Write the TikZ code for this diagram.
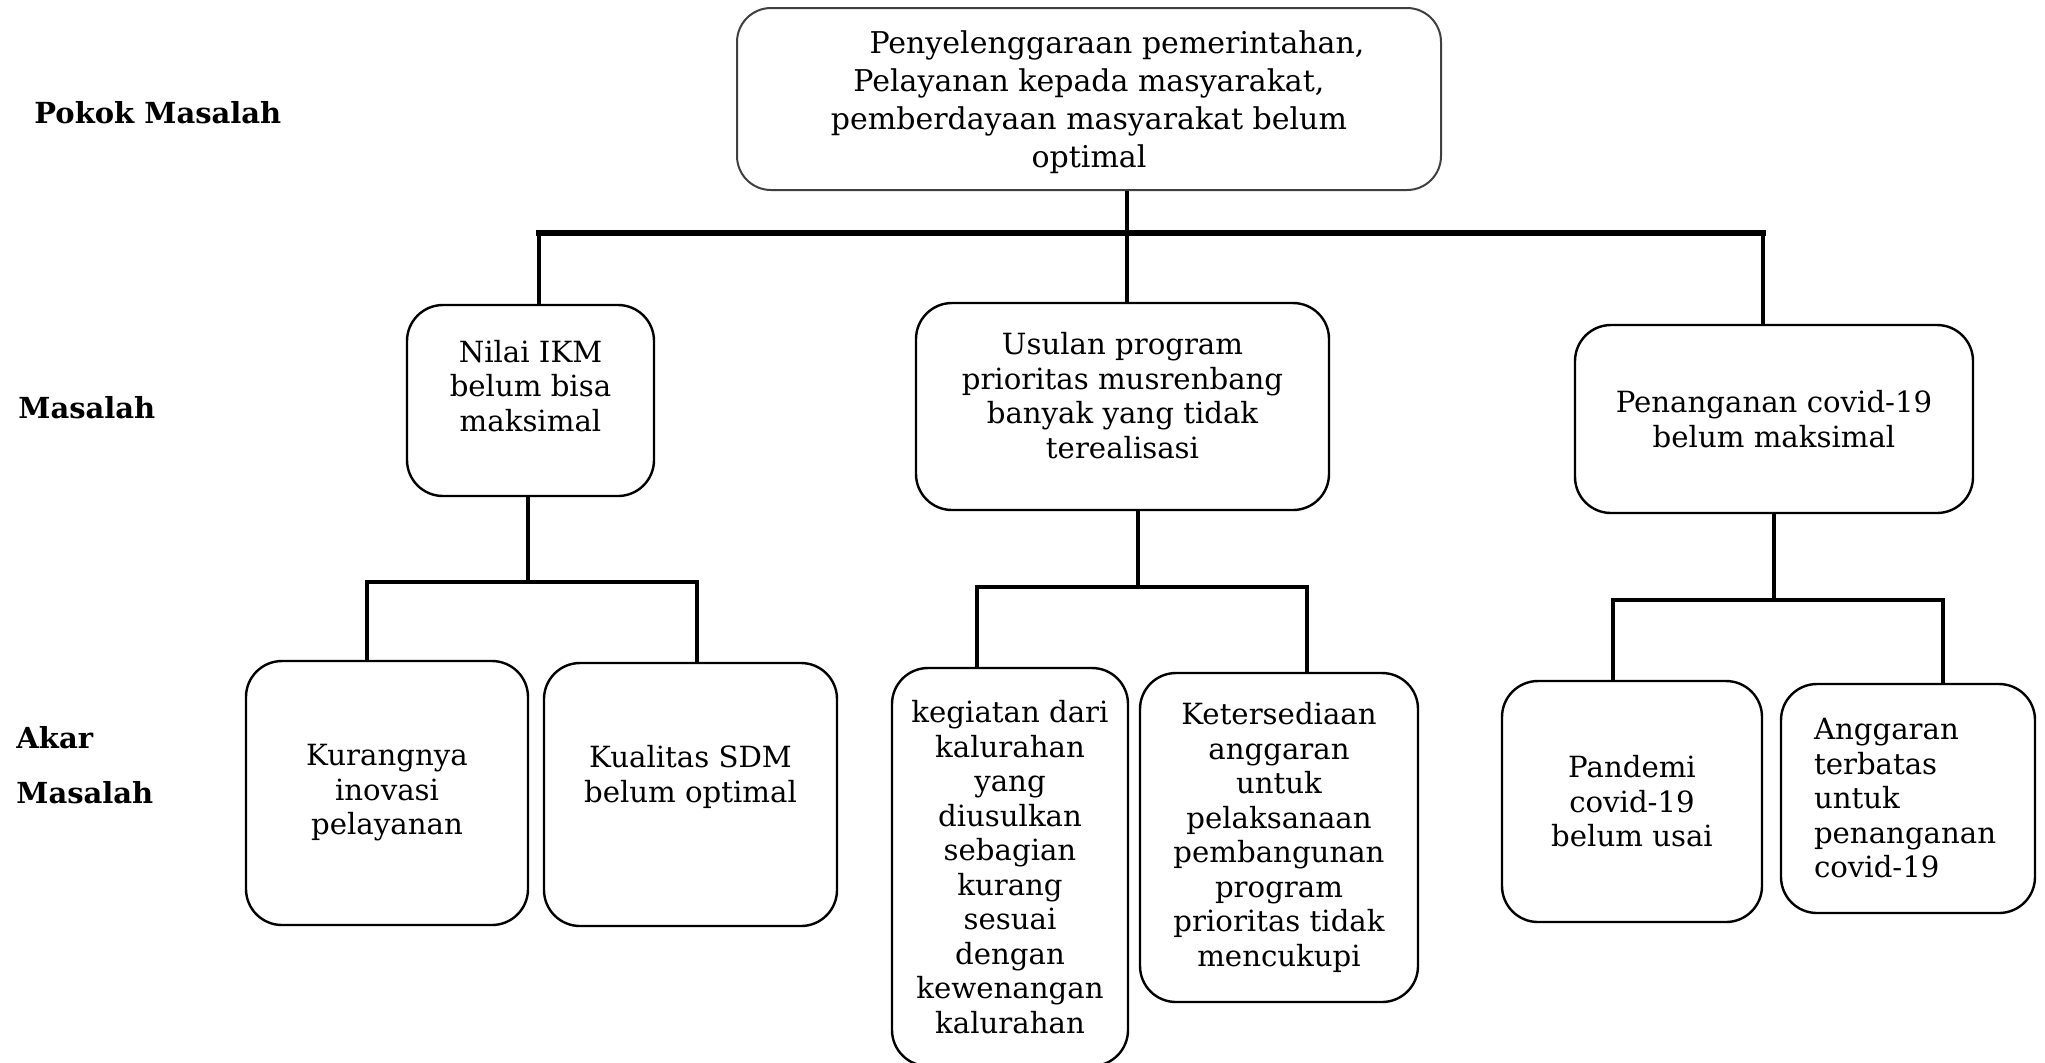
\documentclass[tikz,border=0pt]{standalone}
\usepackage{fontspec}
\setmainfont{DejaVu Serif}
\newcommand{\boxfont}{\fontsize{14.6}{17.25}\selectfont}
\newcommand{\topfont}{\fontsize{15}{19}\selectfont}
\newcommand{\lblfont}{\fontsize{14.5}{17}\selectfont\bfseries}
\begin{document}
\begin{tikzpicture}[x=0.5pt,y=-0.5pt,
  pbox/.style={draw=black, line width=1.2pt, rounded corners=18pt, align=center,
    inner sep=0pt, font=\boxfont},
  topbox/.style={draw=black!75, line width=1pt, rounded corners=17pt, align=center,
    inner sep=0pt, font=\topfont},
  lbl/.style={anchor=west, inner sep=0pt, font=\lblfont},
  vconn/.style={line width=2pt},
  hbar/.style={line width=2.2pt, line cap=rect},
  mainbar/.style={line width=3pt, line cap=rect}]
\useasboundingbox (0,0) rectangle (2045,1062);

% row labels
\node[lbl] (lpokok) at (34,113) {Pokok Masalah};
\node[lbl] (lmasalah) at (18,408) {Masalah};
\node[lbl] (lakar) at (16,738) {Akar};
\node[lbl] (lakarm) at (16,793) {Masalah};

% boxes
\node[topbox, minimum width=352pt, minimum height=91pt, text depth=-3pt] (top) at (1089,99)
  {\hspace*{28pt}Penyelenggaraan pemerintahan,\\Pelayanan kepada masyarakat,\\pemberdayaan masyarakat belum\\optimal};

\node[pbox, minimum width=123.5pt, minimum height=95.5pt, text depth=15pt] (nilai) at (530.5,400.5)
  {Nilai IKM\\belum bisa\\maksimal};
\node[pbox, minimum width=206.5pt, minimum height=103.5pt, text depth=11pt] (usulan) at (1122.5,406.5)
  {Usulan program\\prioritas musrenbang\\banyak yang tidak\\terealisasi};
\node[pbox, minimum width=199pt, minimum height=94pt] (penang) at (1774,419)
  {Penanganan covid-19\\belum maksimal};

\node[pbox, minimum width=141pt, minimum height=132pt] (kurang) at (387,793)
  {Kurangnya\\inovasi\\pelayanan};
\node[pbox, minimum width=146.5pt, minimum height=131.5pt, text depth=20.5pt] (kualitas) at (690.5,794.5)
  {Kualitas SDM\\belum optimal};
\node[pbox, minimum width=118pt, minimum height=199pt] (kegiatan) at (1010,867)
  {kegiatan dari\\kalurahan\\yang\\diusulkan\\sebagian\\kurang\\sesuai\\dengan\\kewenangan\\kalurahan};
\node[pbox, minimum width=139pt, minimum height=164.5pt] (sedia) at (1279,837.5)
  {Ketersediaan\\anggaran\\untuk\\pelaksanaan\\pembangunan\\program\\prioritas tidak\\mencukupi};
\node[pbox, minimum width=130pt, minimum height=120.5pt] (pandemi) at (1632,801.5)
  {Pandemi\\covid-19\\belum usai};
\node[pbox, minimum width=127pt, minimum height=114.5pt, align=left, text width=94pt,
  inner xsep=16.5pt] (anggaran) at (1908,798.5)
  {Anggaran\\terbatas\\untuk\\penanganan\\covid-19};

% junction coordinates
\coordinate (j0) at (1127,233);
\coordinate (j0L) at (539,233);
\coordinate (j0R) at (1763,233);
\coordinate (j1) at (528,582);
\coordinate (j1L) at (367,582);
\coordinate (j1R) at (697,582);
\coordinate (j2) at (1138,587);
\coordinate (j2L) at (977,587);
\coordinate (j2R) at (1307,587);
\coordinate (j3) at (1774,600);
\coordinate (j3L) at (1613,600);
\coordinate (j3R) at (1943,600);

% top level
\draw[vconn] (j0 |- top.south) -- (j0 |- usulan.north);
\draw[mainbar] (j0L) -- (j0R);
\draw[vconn] (j0L) -- (j0L |- nilai.north);
\draw[vconn] (j0R) -- (j0R |- penang.north);

% Nilai IKM group
\draw[vconn] (j1 |- nilai.south) -- (j1);
\draw[hbar] (j1L) -- (j1R);
\draw[vconn] (j1L) -- (j1L |- kurang.north);
\draw[vconn] (j1R) -- (j1R |- kualitas.north);

% Usulan group
\draw[vconn] (j2 |- usulan.south) -- (j2);
\draw[hbar] (j2L) -- (j2R);
\draw[vconn] (j2L) -- (j2L |- kegiatan.north);
\draw[vconn] (j2R) -- (j2R |- sedia.north);

% Penanganan group
\draw[vconn] (j3 |- penang.south) -- (j3);
\draw[hbar] (j3L) -- (j3R);
\draw[vconn] (j3L) -- (j3L |- pandemi.north);
\draw[vconn] (j3R) -- (j3R |- anggaran.north);
\end{tikzpicture}
\end{document}
